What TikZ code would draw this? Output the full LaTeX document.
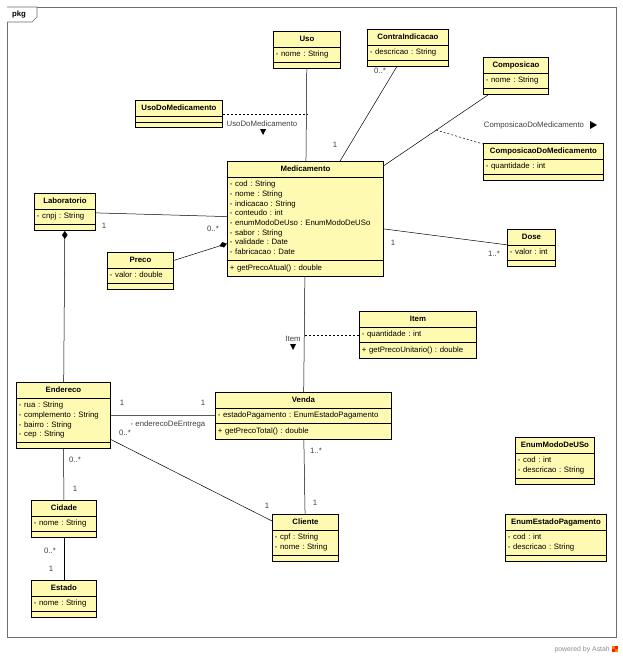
\documentclass[tikz,border=0pt]{standalone}
\usepackage{fontspec}
\setmainfont{Liberation Sans}
\usepackage{tikz}
\usetikzlibrary{arrows.meta}
\usetikzlibrary{shapes.multipart}

\definecolor{classyellow}{RGB}{255,250,178}
\definecolor{framegray}{RGB}{110,110,110}
\newcommand\umlfont{\fontsize{7.8}{9.7}\selectfont\frenchspacing}
\newcommand\classname[1]{\centering\bfseries\strut#1\par}

\begin{document}
\begin{tikzpicture}[x=1pt,y=-1pt,
  umlclass/.style={rectangle split, rectangle split parts=3, draw, line width=0.9pt,
    fill=classyellow, anchor=north west, text width=#1, align=left,
    inner xsep=2.5pt, inner ysep=2.5pt, font=\umlfont,
    rectangle split empty part height=3pt},
  mult/.style={font=\umlfont, text=black!75, inner sep=0pt},
  assoc/.style={line width=0.5pt},
  assocclass/.style={assoc, dash pattern=on 2pt off 2pt}]

\useasboundingbox (0,0) rectangle (622,656);

% package frame
\draw[framegray, line width=0.6pt] (7,7) rectangle (616,637);
\draw[framegray, line width=0.6pt, fill=white] (7,7) -- (37,7) -- (37,17) -- (32,22) -- (7,22);
\node[font=\umlfont\bfseries, inner sep=0pt] (pkg) at (19,14) {pkg};

% classes
\node[umlclass=62pt] (uso) at (273,31) {\classname{Uso}\nodepart{two}\strut- nome : String\nodepart{three}};
\node[umlclass=76pt] (contra) at (367,29) {\classname{ContraIndicacao}\nodepart{two}\strut- descricao : String\nodepart{three}};
\node[umlclass=60pt] (composicao) at (483,57) {\classname{Composicao}\nodepart{two}\strut- nome : String\nodepart{three}};
\node[umlclass=82pt] (usodomed) at (135,100) {\classname{UsoDoMedicamento}\nodepart{two}\nodepart{three}};
\node[umlclass=115pt] (compdomed) at (483,143) {\classname{ComposicaoDoMedicamento}\nodepart{two}\strut- quantidade : int\nodepart{three}};
\node[umlclass=151pt] (medicamento) at (227,161) {\classname{Medicamento}\nodepart{two}\strut- cod : String\\- nome : String\\- indicacao : String\\- conteudo : int\\- enumModoDeUso : EnumModoDeUSo\\- sabor : String\\- validade : Date\\- fabricacao : Date\strut\nodepart{three}\strut+ getPrecoAtual() : double};
\node[umlclass=56pt] (laboratorio) at (34,193) {\classname{Laboratorio}\nodepart{two}\strut- cnpj : String\nodepart{three}};
\node[umlclass=61pt] (preco) at (107,252) {\classname{Preco}\nodepart{two}\strut- valor : double\nodepart{three}};
\node[umlclass=43pt] (dose) at (507,229) {\classname{Dose}\nodepart{two}\strut- valor : int\nodepart{three}};
\node[umlclass=112pt] (item) at (359,311) {\classname{Item}\nodepart{two}\strut- quantidade : int\nodepart{three}\strut+ getPrecoUnitario() : double};
\node[umlclass=171pt] (venda) at (215,392) {\classname{Venda}\nodepart{two}\strut- estadoPagamento : EnumEstadoPagamento\nodepart{three}\strut+ getPrecoTotal() : double};
\node[umlclass=89pt] (endereco) at (16,382) {\classname{Endereco}\nodepart{two}\strut- rua : String\\- complemento : String\\- bairro : String\\- cep : String\strut\nodepart{three}};
\node[umlclass=60pt] (cidade) at (31,500) {\classname{Cidade}\nodepart{two}\strut- nome : String\nodepart{three}};
\node[umlclass=60pt] (estado) at (31,580) {\classname{Estado}\nodepart{two}\strut- nome : String\nodepart{three}};
\node[umlclass=61pt] (cliente) at (272,514) {\classname{Cliente}\nodepart{two}\strut- cpf : String\\- nome : String\strut\nodepart{three}};
\node[umlclass=74pt] (enummodo) at (515,437) {\classname{EnumModoDeUSo}\nodepart{two}\strut- cod : int\\- descricao : String\strut\nodepart{three}};
\node[umlclass=96pt] (enumestado) at (505,514) {\classname{EnumEstadoPagamento}\nodepart{two}\strut- cod : int\\- descricao : String\strut\nodepart{three}};

% associations
\draw[assoc] (uso) -- (medicamento);
\draw[assoc] (contra) -- (medicamento);
\draw[assoc] (composicao) -- (medicamento);
\draw[assoc] (laboratorio) -- (medicamento);
\draw[assoc, -{Diamond[length=8pt,width=5.5pt]}] (preco) -- (medicamento);
\draw[assoc] (medicamento) -- (dose);
\draw[assoc] (medicamento) -- (venda);
\draw[assoc, {Diamond[length=8pt,width=5.5pt]}-] (laboratorio) -- (endereco);
\draw[assoc] (endereco) -- (venda);
\draw[assoc] (endereco) -- (cliente);
\draw[assoc] (venda) -- (cliente);
\draw[assoc] (endereco) -- (cidade);
\draw[assoc] (cidade) -- (estado);

% association classes
\coordinate (compmid) at (436,130);
\draw[assocclass] (usodomed) -- (usodomed -| uso);
\draw[assocclass] (compmid) -- (compdomed);
\draw[assocclass] (item) -- (item -| medicamento);
\node[mult] (l-uso) at (262,124) {UsoDoMedicamento};
\fill (260,129) -- (266,129) -- (263,135) -- cycle;
\node[mult] (l-comp) at (534,125) {ComposicaoDoMedicamento};
\fill (590,121) -- (590,129) -- (597,125) -- cycle;
\node[mult] (l-item) at (293,339) {Item};
\fill (290,344) -- (296,344) -- (293,350) -- cycle;

% multiplicities
\node[mult] (m-contra) at (380,71) {0..*};
\node[mult] (m-medcontra) at (335,145) {1};
\node[mult] (m-lab) at (104,226) {1};
\node[mult] (m-medlab) at (213,229) {0..*};
\node[mult] (m-meddose) at (393,243) {1};
\node[mult] (m-dose) at (494,254) {1..*};
\node[mult] (m-endvenda) at (122,403) {1};
\node[mult] (m-vendaend) at (203,403) {1};
\node[mult] (m-entrega) at (168,424) {- enderecoDeEntrega};
\node[mult] (m-endcli) at (125,433) {0..*};
\node[mult] (m-cliend) at (267,506) {1};
\node[mult] (m-vendacli) at (316,451) {1..*};
\node[mult] (m-clivenda) at (315,503) {1};
\node[mult] (m-endcid) at (75,460) {0..*};
\node[mult] (m-cidend) at (75,489) {1};
\node[mult] (m-cidest) at (50,551) {0..*};
\node[mult] (m-estcid) at (51,569) {1};

% footer
\node[font=\fontsize{6.9}{8}\selectfont, text=black!45, inner sep=0pt, anchor=east] (powered) at (610,650) {powered by Astah};
\fill[orange] (612,646) rectangle (615,649);
\fill[red!80!orange] (615,646) rectangle (618,649);
\fill[red!80!orange] (612,649) rectangle (615,652);
\fill[orange] (615,649) rectangle (618,652);
\end{tikzpicture}
\end{document}
